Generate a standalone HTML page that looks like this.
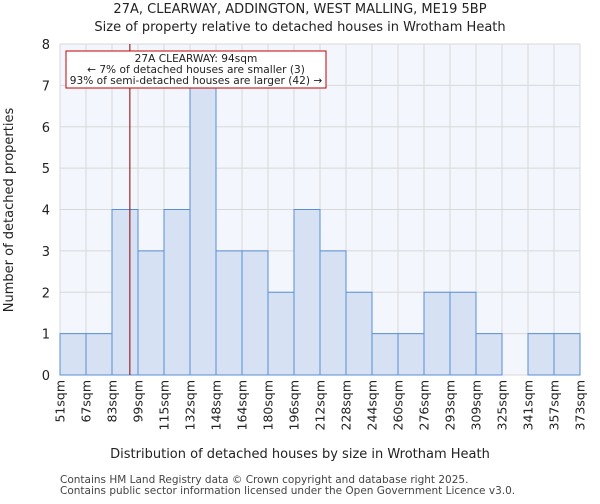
<!DOCTYPE html>
<html><head><meta charset="utf-8"><style>
body{margin:0;background:#fff;font-family:"DejaVu Sans","Liberation Sans",sans-serif}
</style></head><body>
<svg id="c" width="600" height="500" xmlns="http://www.w3.org/2000/svg" font-family="DejaVu Sans, Liberation Sans, sans-serif"></svg>
<script>
const labels=["51sqm","67sqm","83sqm","99sqm","115sqm","132sqm","148sqm","164sqm","180sqm","196sqm","212sqm","228sqm","244sqm","260sqm","276sqm","293sqm","309sqm","325sqm","341sqm","357sqm","373sqm"];
const edges=[51,67,83,99,115,132,148,164,180,196,212,228,244,260,276,293,309,325,341,357,373];
const counts=[1,1,4,3,4,7,3,3,2,4,3,2,1,1,2,2,1,0,1,1];
const yTicks=[0,1,2,3,4,5,6,7,8];
const marker=94;
const X0=60,X1=580,Y0=375,Y1=44;
const NS="http://www.w3.org/2000/svg";
const svg=document.getElementById('c');
function xi(i){return X0+(X1-X0)*i/counts.length;}
function xv(v){for(let i=0;i<edges.length-1;i++){if(v<=edges[i+1])return xi(i)+(v-edges[i])/(edges[i+1]-edges[i])*(xi(i+1)-xi(i));}return X1;}
function y(v){return Y0-(Y0-Y1)*v/8;}
function el(t,a,txt){const e=document.createElementNS(NS,t);for(const k in a)e.setAttribute(k,a[k]);if(txt!==undefined)e.textContent=txt;svg.appendChild(e);return e;}
let e;
e=el('rect',{x:X0,y:Y1,width:X1-X0,height:Y0-Y1,fill:'#f3f6fc'});


for(let i=0;i<=counts.length;i++){e=el('line',{x1:xi(i),x2:xi(i),y1:Y1,y2:Y0,stroke:'#d8d8d8','stroke-width':1});

}
yTicks.forEach(t=>{e=el('line',{x1:X0,x2:X1,y1:y(t),y2:y(t),stroke:'#d8d8d8','stroke-width':1});


e=el('text',{x:50,y:y(t)+5,'text-anchor':'end','font-size':13,fill:'#222'},t);

});
counts.forEach((c,i)=>{if(c>0){e=el('rect',{x:xi(i),y:y(c),width:xi(i+1)-xi(i),height:Y0-y(c),fill:'#d6e1f3',stroke:'#5a8fd6','stroke-width':1});

}});
labels.forEach((l,i)=>{const xx=xi(i);e=el('text',{x:xx+4.5,y:380,'text-anchor':'end','font-size':12.5,fill:'#222',transform:`rotate(-90 ${xx+4.5} 380)`},l);

});
e=el('line',{x1:xv(marker),x2:xv(marker),y1:Y1,y2:Y0,stroke:'#8a0000','stroke-width':1});


e=el('rect',{x:66,y:51,width:260,height:37,fill:'#fff',stroke:'#c00000','stroke-width':1});


[["27A CLEARWAY: 94sqm",62],["← 7% of detached houses are smaller (3)",73],["93% of semi-detached houses are larger (42) →",84]].forEach(a=>{e=el('text',{x:196,y:a[1],'text-anchor':'middle','font-size':10.6,fill:'#222'},a[0]);

});
e=el('text',{x:300,y:13,'text-anchor':'middle','font-size':13,fill:'#222'},"27A, CLEARWAY, ADDINGTON, WEST MALLING, ME19 5BP");


e=el('text',{x:300,y:31,'text-anchor':'middle','font-size':13,fill:'#222'},"Size of property relative to detached houses in Wrotham Heath");


e=el('text',{x:300,y:458,'text-anchor':'middle','font-size':13,fill:'#222'},"Distribution of detached houses by size in Wrotham Heath");


e=el('text',{x:13,y:210,'text-anchor':'middle','font-size':13,fill:'#222',transform:'rotate(-90 13 210)'},"Number of detached properties");


e=el('text',{x:60,y:483,'font-size':10.5,fill:'#444'},"Contains HM Land Registry data © Crown copyright and database right 2025.");


e=el('text',{x:60,y:494,'font-size':10.5,fill:'#444'},"Contains public sector information licensed under the Open Government Licence v3.0.");


</script>
</body></html>
